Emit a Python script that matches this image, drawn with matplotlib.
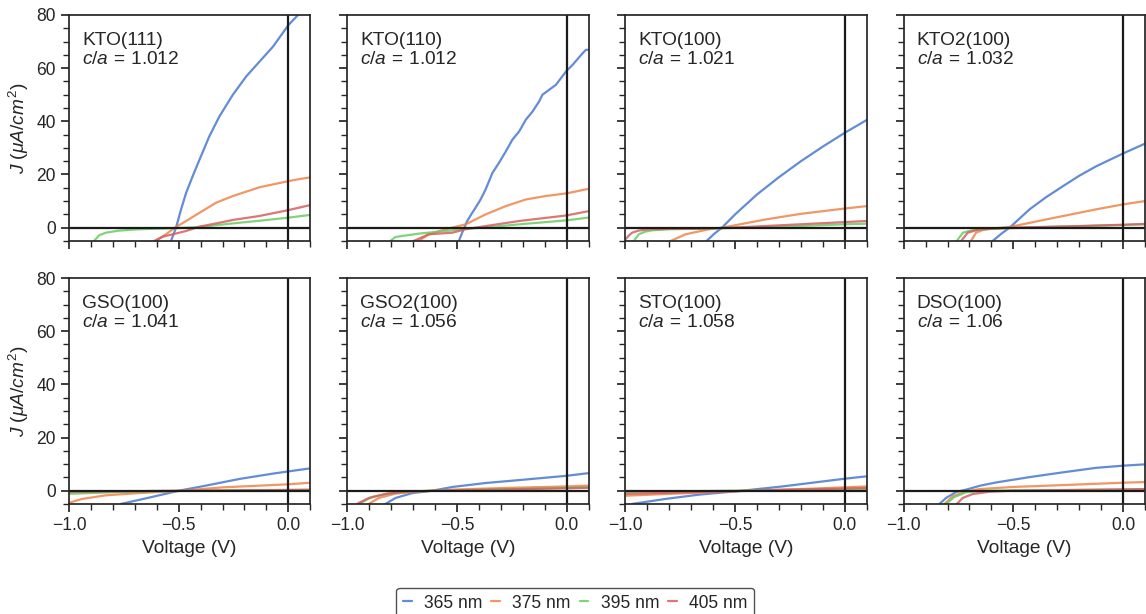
import matplotlib
matplotlib.use('Agg')
import matplotlib.pyplot as plt
import seaborn as sns
from matplotlib.ticker import MultipleLocator

# each series: [voltages], [current densities]
kto111_365 = [[-0.535, -0.512, -0.489, -0.466, -0.436, -0.405, -0.36, -0.314, -0.253, -0.192, -0.131, -0.07, 0.0, 0.044, 0.1],
              [-5, 0, 6.9, 13.1, 19.4, 25.6, 34.4, 41.9, 50, 56.9, 62.5, 68.1, 76.2, 80, 86]]
kto111_375 = [[-0.604, -0.558, -0.517, -0.466, -0.405, -0.329, -0.253, -0.131, 0.0, 0.052, 0.1],
              [-5, -2.5, 0, 2.5, 5.6, 9.4, 11.9, 15.2, 17.5, 18.3, 18.9]]
kto111_395 = [[-0.886, -0.863, -0.832, -0.771, -0.68, -0.527, -0.405, -0.253, -0.131, 0.0, 0.1],
              [-5, -2.9, -1.9, -1.1, -0.6, -0.25, 0.25, 1.6, 2.6, 3.75, 4.8]]
kto111_405 = [[-0.611, -0.573, -0.527, -0.466, -0.405, -0.329, -0.253, -0.131, 0.0, 0.1],
              [-5, -3.4, -2.5, -1.25, 0.4, 1.6, 2.9, 4.4, 6.6, 8.5]]

kto110_365 = [[-0.491, -0.476, -0.453, -0.43, -0.415, -0.392, -0.369, -0.338, -0.308, -0.277, -0.247, -0.216,
               -0.186, -0.155, -0.125, -0.11, -0.079, -0.049, 0.0, 0.027, 0.073, 0.088, 0.1],
              [-5, -1.9, 2.5, 5.6, 7.5, 10.6, 14.4, 20.6, 24.4, 28.7, 33.1, 36.2,
               40.6, 43.7, 47.5, 50, 51.9, 53.7, 59, 61.2, 65.6, 66.9, 66.9]]
kto110_375 = [[-0.674, -0.628, -0.552, -0.46, -0.369, -0.277, -0.186, -0.095, 0.0, 0.1],
              [-5, -2.5, -0.6, 1.25, 5, 8.1, 10.6, 11.9, 12.9, 14.6]]
kto110_395 = [[-0.803, -0.78, -0.674, -0.521, -0.46, -0.369, -0.216, 0.0, 0.1],
              [-5, -3.5, -2.25, -1, -0.4, 0.1, 1.25, 2.75, 3.8]]
kto110_405 = [[-0.697, -0.628, -0.521, -0.46, -0.369, -0.216, 0.0, 0.1],
              [-5, -2.5, -1.9, -0.6, 0.6, 2.5, 4.6, 6.2]]

kto100_365 = [[-0.63, -0.595, -0.56, -0.5, -0.4, -0.3, -0.2, -0.1, 0.0, 0.1],
              [-5, -2.3, 0, 5, 12.5, 19, 25, 30.5, 35.7, 40.5]]
kto100_375 = [[-0.794, -0.726, -0.619, -0.558, -0.36, -0.2, 0.0, 0.1],
              [-5, -2.5, -0.6, 0, 3.1, 5.2, 7.2, 8.1]]
kto100_395 = [[-0.962, -0.939, -0.91, -0.878, -0.8, -0.665, -0.51, -0.207, 0.0, 0.1],
              [-5, -2.5, -1.5, -1, -0.6, -0.4, -0.1, 0.6, 1.25, 1.5]]
kto100_405 = [[-1.0, -0.985, -0.97, -0.94, -0.893, -0.8, -0.665, -0.512, -0.207, 0.0, 0.1],
              [-4.4, -3.0, -1.9, -1.1, -0.6, -0.45, -0.4, 0, 1.25, 2.1, 2.5]]

kto2100_365 = [[-0.594, -0.555, -0.517, -0.426, -0.35, -0.274, -0.2, -0.122, 0.0, 0.1],
               [-5, -2.3, 0, 6.9, 11.5, 15.6, 19.5, 23.1, 27.9, 31.6]]
kto2100_375 = [[-0.693, -0.67, -0.64, -0.609, -0.517, -0.35, -0.122, 0.0, 0.1],
               [-5, -1.9, -0.9, -0.4, 0.25, 3.1, 6.9, 8.75, 10]]
kto2100_395 = [[-0.758, -0.73, -0.685, -0.578, -0.426, 0.0, 0.1],
               [-5, -1.9, -0.9, -0.4, 0.1, 1, 1.25]]
kto2100_405 = [[-0.738, -0.708, -0.654, -0.502, -0.198, 0.0, 0.1],
               [-5, -1.9, -0.6, 0, 0.6, 1.1, 1.4]]

gso100_365 = [[-0.764, -0.65, -0.498, -0.376, -0.224, -0.072, 0.0, 0.1],
              [-5, -2.9, 0, 1.9, 4.4, 6.4, 7.25, 8.4]]
gso100_375 = [[-1.0, -0.97, -0.939, -0.833, -0.68, -0.498, -0.3, 0.0, 0.1],
              [-4.6, -3.8, -3.1, -1.75, -0.9, -0.1, 1.25, 2.4, 3.0]]
gso100_395 = [[-1.0, -0.8, -0.5, 0.0, 0.1],
              [-1.2, -0.6, -0.1, 0.3, 0.4]]
gso100_405 = [[-1.0, -0.5, 0.0, 0.1],
              [-0.5, 0, 0.25, 0.3]]

gso2100_365 = [[-0.826, -0.78, -0.703, -0.612, -0.52, -0.367, -0.214, 0.0, 0.1],
               [-5, -2.75, -0.9, 0, 1.4, 2.9, 4, 5.6, 6.6]]
gso2100_375 = [[-0.902, -0.856, -0.78, -0.673, -0.52, -0.291, 0.0, 0.1],
               [-5, -2.75, -1.1, -0.25, 0.4, 1, 1.6, 1.9]]
gso2100_395 = [[-0.948, -0.887, -0.81, -0.703, 0.0, 0.1],
               [-5, -2.4, -1, -0.25, 1.1, 1.25]]
gso2100_405 = [[-0.956, -0.902, -0.826, -0.734, -0.596, 0.0, 0.1],
               [-5, -2.75, -1.25, -0.4, 0, 0.9, 1.1]]

sto100_365 = [[-0.97, -0.817, -0.665, -0.466, -0.284, 0.0, 0.1],
              [-5, -3.1, -1.5, 0, 1.6, 4.5, 5.4]]
sto100_375 = [[-1.0, -0.817, -0.512, -0.207, 0.0, 0.1],
              [-1.9, -1.25, -0.25, 0.6, 1.25, 1.6]]
sto100_395 = [[-1.0, -0.5, 0.0, 0.1],
              [-0.5, 0, 0.5, 0.6]]
sto100_405 = [[-1.0, -0.6, -0.3, 0.0, 0.1],
              [-1.2, -0.4, 0.3, 0.8, 1.0]]

dso100_365 = [[-0.837, -0.807, -0.761, -0.715, -0.65, -0.578, -0.426, -0.274, -0.122, 0.0, 0.1],
              [-5, -2.75, -0.5, 0.4, 1.9, 3.1, 5.1, 6.9, 8.6, 9.4, 9.9]]
dso100_375 = [[-0.814, -0.776, -0.715, -0.654, -0.502, -0.274, 0.0, 0.1],
              [-5, -2.1, -0.25, 0.6, 1.4, 2.1, 3, 3.25]]
dso100_395 = [[-0.807, -0.769, -0.715, -0.624, 0.0, 0.1],
              [-5, -2.4, -0.6, 0, 0.4, 0.5]]
dso100_405 = [[-0.758, -0.731, -0.685, -0.609, -0.502, 0.0, 0.1],
              [-5, -2.75, -1.25, -0.4, 0, 0.5, 0.6]]

samples = ['KTO(111)', 'KTO(110)', 'KTO(100)', 'KTO2(100)',
           'GSO(100)', 'GSO2(100)', 'STO(100)', 'DSO(100)']
ca_ratio = ['1.012', '1.012', '1.021', '1.032', '1.041', '1.056', '1.058', '1.06']
wavelengths = ['365 nm', '375 nm', '395 nm', '405 nm']
panel_data = [
    [kto111_365, kto111_375, kto111_395, kto111_405],
    [kto110_365, kto110_375, kto110_395, kto110_405],
    [kto100_365, kto100_375, kto100_395, kto100_405],
    [kto2100_365, kto2100_375, kto2100_395, kto2100_405],
    [gso100_365, gso100_375, gso100_395, gso100_405],
    [gso2100_365, gso2100_375, gso2100_395, gso2100_405],
    [sto100_365, sto100_375, sto100_395, sto100_405],
    [dso100_365, dso100_375, dso100_395, dso100_405],
]

sns.set_theme(context='notebook', style='ticks', font_scale=1.15)
plt.rcParams['font.family'] = ['Liberation Sans', 'DejaVu Sans']
plt.rcParams['mathtext.fontset'] = 'custom'
plt.rcParams['mathtext.rm'] = 'Liberation Sans'
plt.rcParams['mathtext.it'] = 'Liberation Sans:italic'
plt.rcParams['mathtext.bf'] = 'Liberation Sans:bold'

colors = sns.color_palette('muted', 4)

fig, axes = plt.subplots(2, 4, figsize=(11.46, 6.14), dpi=100, sharex=True, sharey=True)
fig.subplots_adjust(left=0.0602, right=0.9991, top=0.9756, bottom=0.1792,
                    wspace=0.153, hspace=0.164)

for i, ax in enumerate(axes.flat):
    for series, c, lab in zip(panel_data[i], colors, wavelengths):
        ax.plot(series[0], series[1], color=c, lw=1.6, alpha=0.85, label=lab)
    ax.axhline(0, color='k', lw=1.6)
    ax.axvline(0, color='k', lw=1.6)
    ax.text(0.054, 0.867, samples[i], transform=ax.transAxes, va='baseline', ha='left')
    ax.text(0.054, 0.783, r'$c/a\,=\,' + ca_ratio[i] + '$', transform=ax.transAxes,
            va='baseline', ha='left')
    ax.set_xlim(-1.0, 0.1)
    ax.set_ylim(-5, 80)
    ax.xaxis.set_major_locator(MultipleLocator(0.5))
    ax.xaxis.set_minor_locator(MultipleLocator(0.1))
    ax.yaxis.set_major_locator(MultipleLocator(20))
    ax.yaxis.set_minor_locator(MultipleLocator(5))
    ax.tick_params(which='major', length=6, width=1.25)
    ax.tick_params(which='minor', length=4, width=1)
    if i >= 4:
        ax.set_xlabel('Voltage (V)')
    if i % 4 == 0:
        ax.set_ylabel(r'$J$ ($\mu A/cm^2$)')

handles, labels = axes[0, 0].get_legend_handles_labels()
leg = fig.legend(handles, labels, loc='upper center', bbox_to_anchor=(0.502, 0.043),
                 ncol=4, handlelength=0.5, handletextpad=0.7, columnspacing=0.5,
                 borderaxespad=0, frameon=True, fancybox=True)
leg.get_frame().set_edgecolor('0.15')

fig.savefig('out.png', dpi=100)
